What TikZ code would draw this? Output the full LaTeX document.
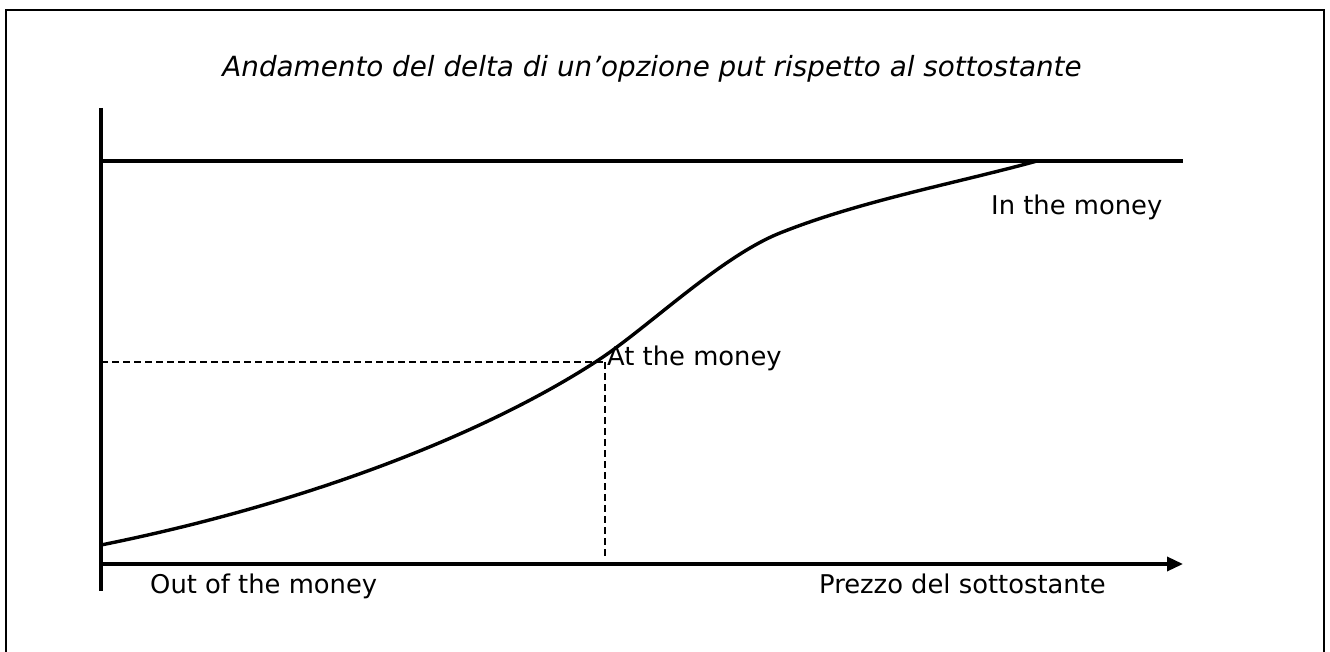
\documentclass[tikz,border=0pt]{standalone}
\usepackage{fontspec}
\setmainfont{DejaVu Sans}
\usetikzlibrary{arrows.meta}
\tikzset{
  axisline/.style={line width=3.4pt, line cap=butt},
  curveline/.style={line width=3.4pt, line join=round},
  guide/.style={line width=1.9pt, dash pattern=on 7pt off 4pt},
  frameline/.style={line width=2.6pt},
  lbl/.style={font=\fontsize{25.8pt}{30pt}\selectfont, inner sep=0pt, anchor=base west},
  ttl/.style={font=\fontsize{27.8pt}{33pt}\selectfont\itshape, inner sep=0pt, anchor=base}
}
\begin{document}
\begin{tikzpicture}[x=1pt,y=-1pt]
\useasboundingbox (0,0) rectangle (1330,652);
% frame (bottom edge lies outside the picture)
\draw[frameline] (6,652) -- (6,10) -- (1324,10) -- (1324,652);
% coordinates
\coordinate (ytop) at (101,108);
\coordinate (ybot) at (101,591);
\coordinate (O) at (101,564);
\coordinate (xend) at (1183,564);
\coordinate (hl) at (101,161);
\coordinate (hr) at (1183,161);
\coordinate (atm) at (605,362);
\coordinate (atmL) at (101,362);
\coordinate (atmB) at (605,557);
\coordinate (c0) at (101,545);
\coordinate (c1) at (597,361);
\coordinate (c2) at (780,233);
\coordinate (c3) at (1037,161);
% title
\node[ttl] (title) at (652,77) {Andamento del delta di un’opzione put rispetto al sottostante};
% axes
\draw[axisline] (ytop) -- (ybot);
\draw[axisline, -{Triangle[length=16pt,width=14pt]}] (O) -- (xend);
\draw[axisline] (hl) -- (hr);
% guides
\draw[guide] (atmL) -- (atm);
\draw[guide] (atm) -- (atmB);
% curve
\draw[curveline] (c0) .. controls (300,505) and (480,437) .. (c1)
  .. controls (647,328.5) and (720,257) .. (c2)
  .. controls (860,201) and (957,183) .. (c3);
% labels
\node[lbl] (itm) at (991,215) {In the money};
\node[lbl] (atmlbl) at (607,365) {At the money};
\node[lbl] (otm) at (150,593) {Out of the money};
\node[lbl, anchor=base east] (xlbl) at (1106,593) {Prezzo del sottostante};
\end{tikzpicture}
\end{document}
